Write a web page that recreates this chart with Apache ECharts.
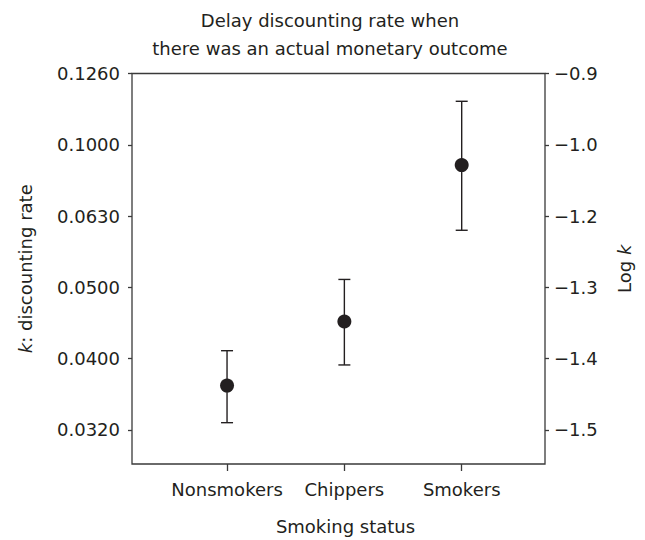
<!DOCTYPE html>
<html>
<head>
<meta charset="utf-8">
<script src="https://cdn.jsdelivr.net/npm/echarts@6/dist/echarts.min.js"></script>
<style>
  html, body { margin: 0; padding: 0; background: #fff; }
  #chart { width: 645px; height: 540px; }
</style>
</head>
<body>
<div id="chart"></div>
<script>
// ---- data ----
const categories = ['Nonsmokers', 'Chippers', 'Smokers'];
// log k values
const meanLogK  = [-1.438, -1.348, -1.057];
const lowerLogK = [-1.490, -1.409, -1.220];
const upperLogK = [-1.389, -1.289, -0.939];
// tick levels (the printed axis is evenly spaced between these levels)
const logTicks  = [-1.5, -1.4, -1.3, -1.2, -1.0, -0.9];
const logLabels = ['\u22121.5', '\u22121.4', '\u22121.3', '\u22121.2', '\u22121.0', '\u22120.9'];
const kLabels   = ['0.0320', '0.0400', '0.0500', '0.0630', '0.1000', '0.1260'];

// map a log k value onto the evenly spaced tick-level scale of the axis
function toLevel(v) {
  for (let i = 0; i < logTicks.length - 1; i++) {
    const a = logTicks[i], b = logTicks[i + 1];
    if (v <= b || i === logTicks.length - 2) {
      return i + (v - a) / (b - a);
    }
  }
  return 0;
}

const xPos = categories.map((c, i) => i + 1);
const meanData = categories.map((c, i) => [xPos[i], toLevel(meanLogK[i])]);
const errData = categories.map((c, i) => [xPos[i], toLevel(lowerLogK[i]), toLevel(upperLogK[i])]);
const levelValues = logTicks.map((t, i) => i);

const FONT = 'DejaVu Sans';
const INK = '#231f20';
const AXIS = '#3a3a3a';

const chart = echarts.init(document.getElementById('chart'), null, { renderer: 'svg' });

chart.setOption({
  backgroundColor: '#ffffff',
  animation: false,
  textStyle: { fontFamily: FONT },
  title: {
    text: 'Delay discounting rate when\nthere was an actual monetary outcome',
    left: 330,
    top: 6,
    padding: 0,
    textAlign: 'center',
    textStyle: { fontFamily: FONT, fontSize: 18, fontWeight: 'normal', color: INK, lineHeight: 28 }
  },
  grid: {
    left: 132, right: 100, top: 73.5, bottom: 75,
    show: true, borderColor: AXIS, borderWidth: 1.3, backgroundColor: 'transparent'
  },
  xAxis: {
    type: 'value',
    min: 0.19,
    max: 3.71,
    splitLine: { show: false },
    axisLine: { show: false, onZero: false },
    axisTick: { show: true, length: 7, lineStyle: { color: AXIS, width: 1.3 }, customValues: xPos },
    axisLabel: {
      customValues: xPos,
      margin: 16,
      fontFamily: FONT, fontSize: 18, color: INK,
      formatter: v => categories[Math.round(v) - 1] || ''
    },
    name: 'Smoking status',
    nameLocation: 'middle',
    nameGap: 53,
    nameTextStyle: { fontFamily: FONT, fontSize: 18, color: INK, padding: [0, 0, 0, 14] }
  },
  yAxis: [
    {
      type: 'value',
      position: 'left',
      min: -0.48,
      max: 5,
      splitLine: { show: false },
      axisLine: { show: false, onZero: false },
      axisTick: { show: true, length: 4, lineStyle: { color: AXIS, width: 1.3 }, customValues: levelValues },
      axisLabel: {
        customValues: levelValues,
        margin: 12,
        fontFamily: FONT, fontSize: 18, color: INK,
        formatter: v => kLabels[Math.round(v)]
      },
      name: '{i|k}: discounting rate',
      nameLocation: 'middle',
      nameRotate: 90,
      nameGap: 98,
      nameTextStyle: {
        fontFamily: FONT, fontSize: 18, color: INK,
        rich: { i: { fontFamily: FONT, fontSize: 18, fontStyle: 'italic', color: INK } }
      }
    },
    {
      type: 'value',
      position: 'right',
      min: -0.48,
      max: 5,
      splitLine: { show: false },
      axisLine: { show: false, onZero: false },
      axisTick: { show: true, length: 4, lineStyle: { color: AXIS, width: 1.3 }, customValues: levelValues },
      axisLabel: {
        customValues: levelValues,
        margin: 9,
        fontFamily: FONT, fontSize: 18, color: INK,
        formatter: v => logLabels[Math.round(v)]
      },
      name: 'Log {i|k}',
      nameLocation: 'middle',
      nameRotate: 90,
      nameGap: 70,
      nameTextStyle: {
        fontFamily: FONT, fontSize: 18, color: INK,
        rich: { i: { fontFamily: FONT, fontSize: 18, fontStyle: 'italic', color: INK } }
      }
    }
  ],
  series: [
    {
      type: 'custom',
      name: 'error',
      data: errData,
      z: 2,
      renderItem: function (params, api) {
        const x = api.value(0);
        const lo = api.coord([x, api.value(1)]);
        const hi = api.coord([x, api.value(2)]);
        const hw = 6;
        const style = { stroke: INK, lineWidth: 1.4 };
        return {
          type: 'group',
          children: [
            { type: 'line', shape: { x1: lo[0], y1: lo[1], x2: hi[0], y2: hi[1] }, style },
            { type: 'line', shape: { x1: lo[0] - hw, y1: lo[1], x2: lo[0] + hw, y2: lo[1] }, style },
            { type: 'line', shape: { x1: hi[0] - hw, y1: hi[1], x2: hi[0] + hw, y2: hi[1] }, style }
          ]
        };
      }
    },
    {
      type: 'scatter',
      name: 'mean',
      data: meanData,
      symbol: 'circle',
      symbolSize: 14,
      z: 3,
      itemStyle: { color: INK, opacity: 1 }
    }
  ]
});
</script>
</body>
</html>
